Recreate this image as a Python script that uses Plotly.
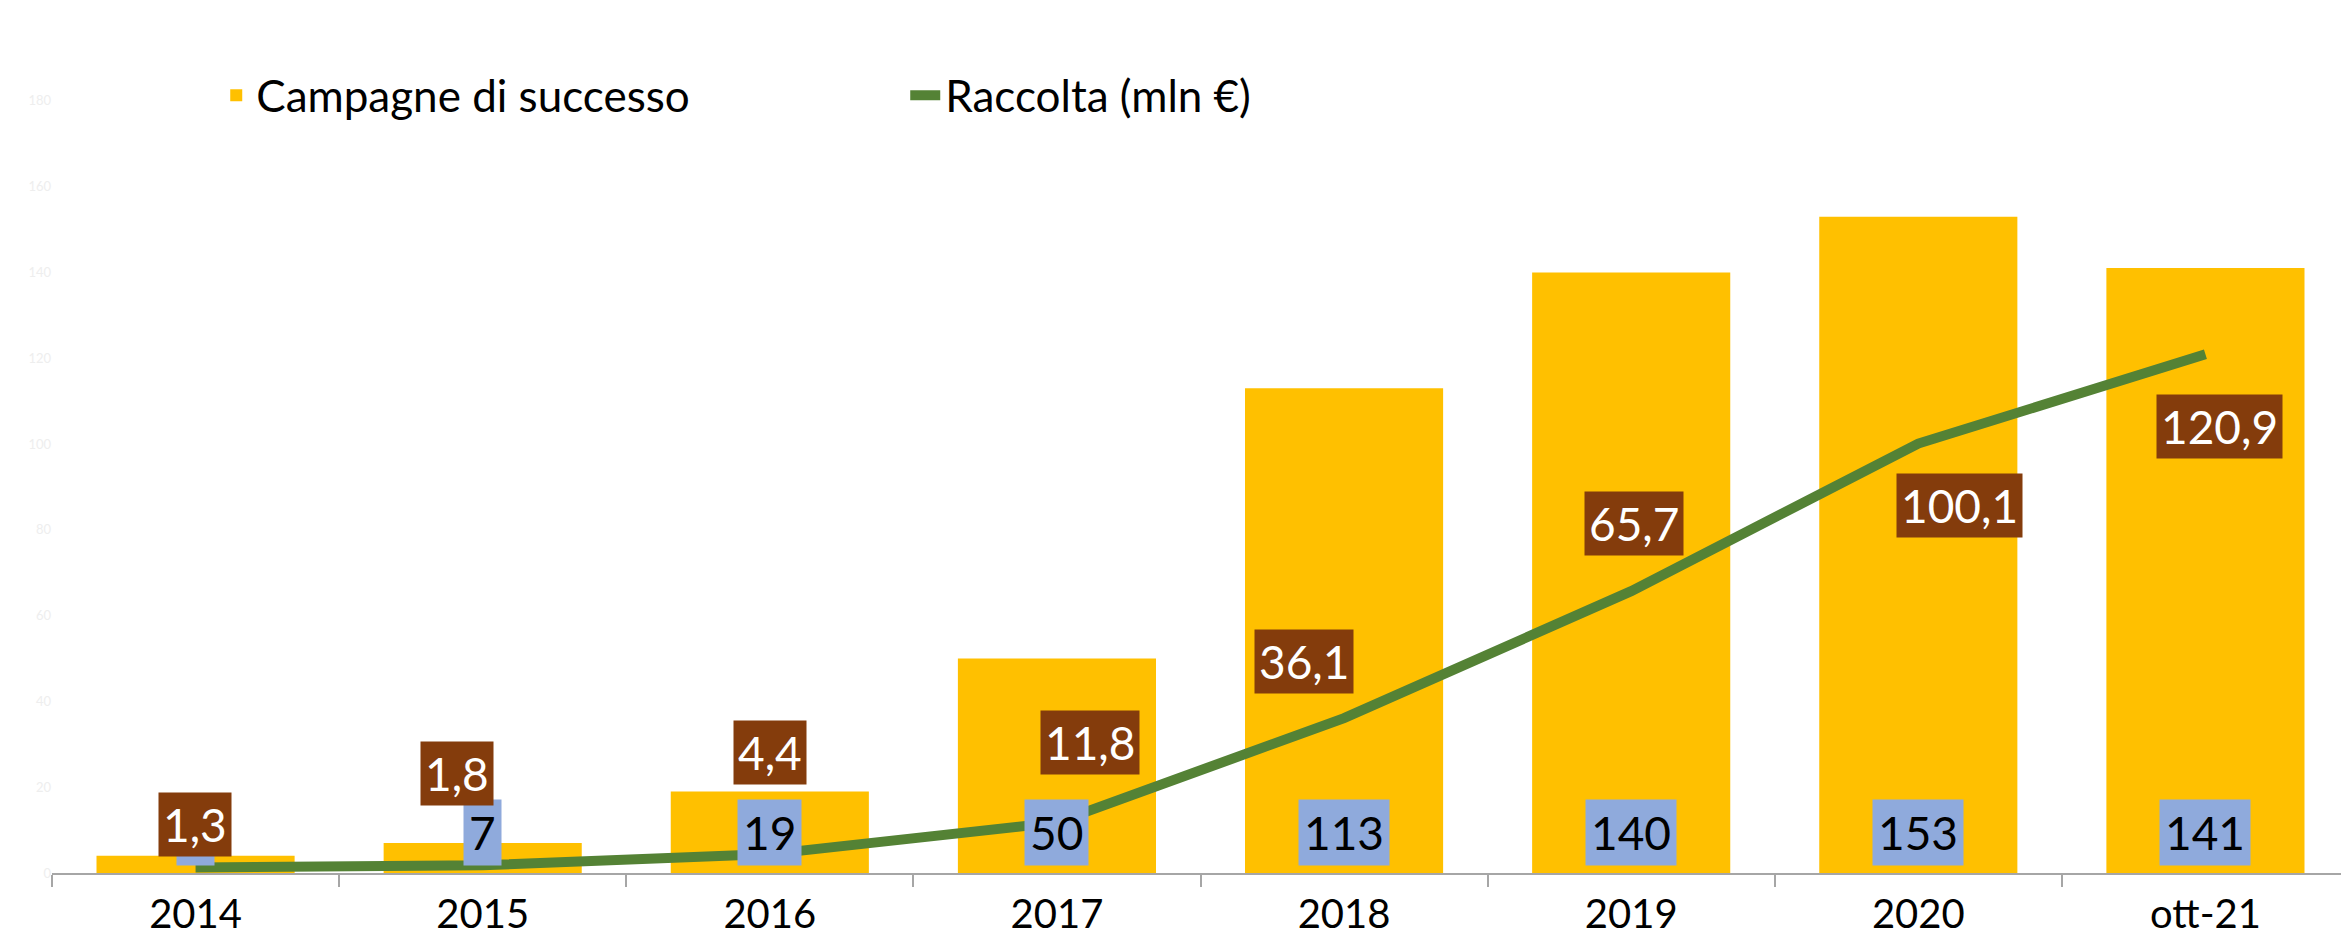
import plotly.graph_objects as go

categories = ["2014", "2015", "2016", "2017", "2018", "2019", "2020", "ott-21"]
campagne = [4, 7, 19, 50, 113, 140, 153, 141]
raccolta = [1.3, 1.8, 4.4, 11.8, 36.1, 65.7, 100.1, 120.9]
raccolta_labels = ["1,3", "1,8", "4,4", "11,8", "36,1", "65,7", "100,1", "120,9"]
campagne_labels = ["4", "7", "19", "50", "113", "140", "153", "141"]

# label offsets in pixels (style only)
lbl_dx = [-1, -26, 0, 33, -40, 3, 41, 14]
lbl_dy = [43, 92, 102, 80, 57, 68, -62, -72]

FONT = "Lato"
YELLOW = "#FFC000"
GREEN = "#548235"
BLUE = "#8FAADC"
BROWN = "#843C0C"

fig = go.Figure()
fig.add_trace(go.Bar(x=categories, y=campagne, name="Campagne di successo",
                     marker=dict(color=YELLOW, line=dict(width=0))))
fig.add_trace(go.Scatter(x=categories, y=raccolta, name="Raccolta (mln €)", mode="lines",
                         line=dict(color=GREEN, width=10)))

ann = []
for i, t in enumerate(campagne_labels):
    ann.append(dict(x=i, y=0, text=t, xref="x", yref="y", showarrow=False,
                    yanchor="middle", xanchor="center", yshift=41,
                    bgcolor=BLUE, borderpad=5,
                    font=dict(family=FONT, size=46, color="black")))
for i, (v, t, dx, dy) in enumerate(zip(raccolta, raccolta_labels, lbl_dx, lbl_dy)):
    ann.append(dict(x=i, y=v, text=t, xref="x", yref="y", showarrow=False,
                    yanchor="middle", xanchor="center", xshift=dx, yshift=dy,
                    bgcolor=BROWN, borderpad=4,
                    font=dict(family=FONT, size=46, color="white")))

# page body has an 8px default margin, so the figure is sized to fit the window
fig.update_layout(
    width=2341, height=931,
    margin=dict(l=44, r=0, t=7, b=66),
    plot_bgcolor="white", paper_bgcolor="white",
    bargap=0.31,
    font=dict(family=FONT),
    showlegend=True,
    legend=dict(orientation="h", x=0.0715, y=0.906, xanchor="left", yanchor="middle",
                font=dict(family=FONT, size=44, color="black"),
                entrywidth=644, entrywidthmode="pixels",
                bgcolor="rgba(0,0,0,0)"),
    annotations=ann,
)
fig.update_xaxes(type="category", range=[-0.5, 7.5], showline=True, linecolor="#A6A6A6",
                 linewidth=2, ticks="outside", tickson="boundaries", ticklen=12,
                 tickcolor="#A6A6A6", tickwidth=2, showgrid=False, zeroline=False,
                 tickangle=0, automargin=False, ticklabelstandoff=5,
                 tickfont=dict(family=FONT, size=40, color="black"))
fig.update_yaxes(range=[0, 200], dtick=20, showgrid=False, zeroline=False, showline=False,
                 automargin=False,
                 tickfont=dict(family=FONT, size=13, color="#EEEEEE"))

fig.write_html("out.html")
